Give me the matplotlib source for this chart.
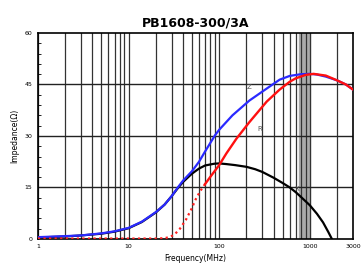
import matplotlib.pyplot as plt
import numpy as np

# impedance curves
z_freq = [1, 2, 3, 5, 7, 10, 14, 20, 25, 30, 35, 40, 50, 60, 70, 80, 90, 100, 140,
          215, 334, 464, 600, 800, 1000, 1200, 1500, 2000, 2500, 3000]
z_vals = [0.5, 0.8, 1.0, 1.6, 2.2, 3.2, 5.0, 7.8, 10.0, 12.5, 15.0, 17.0, 19.7, 22.5,
          25.5, 28.0, 30.2, 31.8, 36.0, 40.3, 43.8, 46.4, 47.5, 48.0, 48.1, 47.9,
          47.3, 46.2, 45.0, 43.5]

x_freq = [1, 2, 3, 5, 7, 10, 14, 20, 25, 30, 35, 40, 50, 60, 70, 88, 100, 120, 150,
          200, 250, 300, 400, 500, 600, 700, 800, 1000, 1200, 1400, 1600, 1750]
x_vals = [0.4, 0.7, 1.0, 1.5, 2.1, 3.1, 4.9, 7.7, 10.0, 12.5, 14.8, 16.6, 19.0, 20.5,
          21.4, 21.9, 22.0, 21.8, 21.5, 21.0, 20.3, 19.5, 17.8, 16.3, 15.0, 13.6,
          12.2, 9.8, 7.3, 4.8, 2.0, 0.0]

r_low_freq = [1, 5, 10, 20, 25, 28, 32, 37, 43, 49, 55, 62, 70]
r_low_vals = [0.1, 0.1, 0.1, 0.1, 0.2, 0.5, 1.2, 3.0, 5.6, 8.5, 11.5, 14.0, 16.0]
r_freq = [70, 81, 100, 120, 155, 215, 334, 464, 600, 700, 900, 1100, 1500, 2000,
          2500, 3000]
r_vals = [16.0, 18.3, 21.5, 24.9, 29.2, 34.0, 40.0, 43.5, 45.8, 46.8, 47.8, 48.1,
          47.6, 46.2, 45.0, 43.5]

x_ticks = [1, 10, 100, 1000, 3000]
y_ticks = [0, 15, 30, 45, 60]

fig = plt.figure(figsize=(3.61, 2.73), dpi=100)
ax = fig.add_axes([0.105, 0.125, 0.873, 0.754])

ax.set_xscale('log')
ax.set_xlim(1, 3000)
ax.set_ylim(0, 60)

# dense grid like the printed chart
grid_x = [m * 10 ** d for d in range(0, 4) for m in range(1, 10) if m * 10 ** d < 3000]
for gx in grid_x:
    ax.axvline(gx, color='#333333', lw=0.9, zorder=1)
ax.axvspan(760, 1000, color='#aaaaaa', zorder=0.5)
for gy in [15, 30, 45]:
    ax.axhline(gy, color='#222222', lw=1.0, zorder=1)

ax.plot(x_freq, x_vals, color='black', lw=1.6, zorder=3)
ax.plot(z_freq, z_vals, color='#2a2aff', lw=1.6, zorder=3)
ax.plot(r_low_freq, r_low_vals, color='#ff2020', lw=1.6, ls=(0, (1, 1.5)), zorder=3)
ax.plot(r_freq, r_vals, color='#ff1010', lw=1.7, zorder=4)

ax.text(215, 44.2, 'Z', fontsize=5, color='#555555', ha='center', va='center', zorder=5)
ax.text(278, 32, 'R', fontsize=5, color='#555555', ha='center', va='center', zorder=5)
ax.text(720, 14.4, 'X', fontsize=5, color='#555555', ha='center', va='center', zorder=5)

ax.set_xticks(x_ticks)
ax.set_xticklabels([str(t) for t in x_ticks])
ax.xaxis.set_minor_locator(plt.NullLocator())
ax.set_yticks(y_ticks)
ax.set_yticks(np.arange(0, 61, 3), minor=True)
ax.tick_params(axis='both', which='major', labelsize=4.5, direction='in', length=0, pad=4)
ax.tick_params(axis='y', which='minor', direction='in', length=2, width=0.6)
for s in ax.spines.values():
    s.set_linewidth(1.2)

ax.set_xlabel('Frequency(MHz)', fontsize=5.5, labelpad=3)
ax.set_ylabel('Impedance(Ω)', fontsize=5.5, labelpad=4)
ax.set_title('PB1608-300/3A', fontsize=9, fontweight='bold', pad=5)

fig.savefig('out.png', dpi=100)
